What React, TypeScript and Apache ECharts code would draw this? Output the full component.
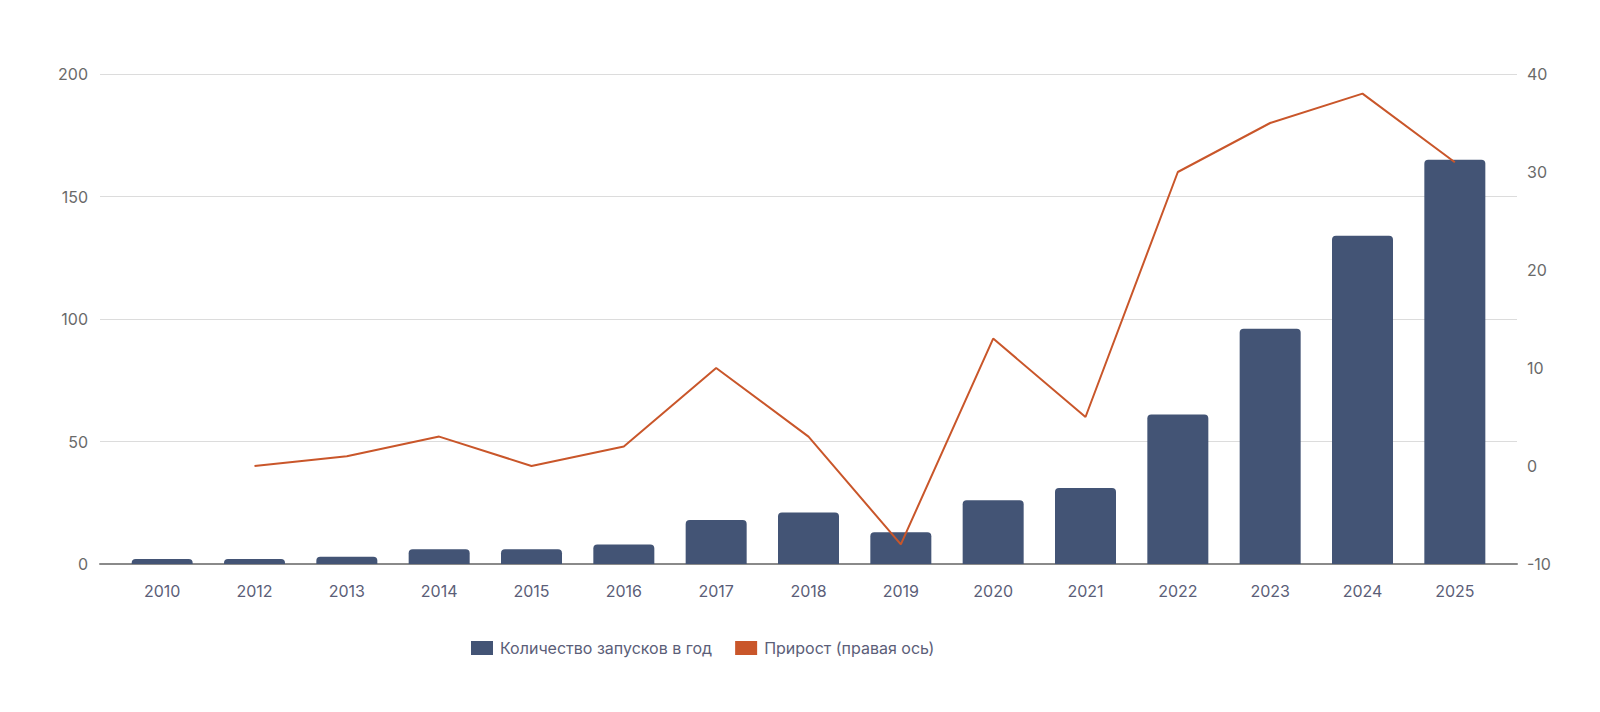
import React, { useEffect, useRef } from "react";
import * as echarts from "echarts";

const years = ["2010", "2012", "2013", "2014", "2015", "2016", "2017", "2018", "2019", "2020", "2021", "2022", "2023", "2024", "2025"];
const launches = [2, 2, 3, 6, 6, 8, 18, 21, 13, 26, 31, 61, 96, 134, 165];
const growth: (number | null)[] = [null, 0, 1, 3, 0, 2, 10, 3, -8, 13, 5, 30, 35, 38, 31];
const seriesNames = ["Количество запусков в год", "Прирост (правая ось)"];

const FONT = "Inter, 'Noto Sans', sans-serif";

export default function App() {
  const ref = useRef<HTMLDivElement>(null);
  useEffect(() => {
    if (!ref.current) return;
    const chart = echarts.init(ref.current, undefined, { renderer: "svg" });
    chart.setOption({
      animation: false,
      backgroundColor: "#ffffff",
      textStyle: { fontFamily: FONT },
      legend: {
        left: 466,
        top: 635,
        itemWidth: 22,
        itemHeight: 14,
        itemGap: 23,
        icon: "rect",
        textStyle: { fontSize: 16, color: "#5b5e78", fontFamily: FONT, padding: [0, 0, 0, 2] },
        data: seriesNames.map((n) => ({ name: n, icon: "rect" })),
      },
      grid: [
        { left: 100, right: 83, top: 74, bottom: 148 },
        { left: 116, right: 99, top: 74, bottom: 148 },
      ],
      xAxis: [
        {
          type: "category",
          gridIndex: 0,
          data: [""],
          axisLine: { show: true, lineStyle: { color: "#8a8a8a", width: 2 } },
          axisTick: { show: false },
          axisLabel: { show: false },
          splitLine: { show: false },
        },
        {
          type: "category",
          gridIndex: 1,
          data: years,
          axisLine: { show: false },
          axisTick: { show: false },
          axisLabel: { fontSize: 16, color: "#5b5e78", margin: 19, fontFamily: FONT },
        },
      ],
      yAxis: [
        {
          type: "value",
          gridIndex: 0,
          position: "left",
          min: 0,
          max: 200,
          interval: 50,
          axisLine: { show: false },
          axisTick: { show: false },
          axisLabel: { fontSize: 16, color: "#6a6a6a", margin: 12, fontFamily: FONT },
          splitLine: { show: true, lineStyle: { color: "#dcdcdc", width: 1 } },
        },
        {
          type: "value",
          gridIndex: 0,
          position: "right",
          min: -10,
          max: 40,
          interval: 10,
          axisLine: { show: false },
          axisTick: { show: false },
          axisLabel: { fontSize: 16, color: "#6a6a6a", margin: 10, fontFamily: FONT },
          splitLine: { show: false },
        },
        { type: "value", gridIndex: 1, min: 0, max: 200, show: false, splitLine: { show: false } },
        { type: "value", gridIndex: 1, min: -10, max: 40, show: false, splitLine: { show: false } },
      ],
      series: [
        {
          name: seriesNames[0],
          type: "bar",
          xAxisIndex: 1,
          yAxisIndex: 2,
          data: launches,
          barWidth: 61,
          itemStyle: { color: "#435475", borderRadius: [4, 4, 0, 0] },
          z: 2,
        },
        {
          name: seriesNames[1],
          type: "line",
          xAxisIndex: 1,
          yAxisIndex: 3,
          data: growth,
          showSymbol: false,
          symbol: "none",
          itemStyle: { color: "#c9562a" },
          lineStyle: { color: "#c9562a", width: 2 },
          z: 3,
        },
      ],
    });
    return () => chart.dispose();
  }, []);
  return (
    <div
      ref={ref}
      style={{ position: "absolute", left: 0, top: 0, width: 1600, height: 712, background: "#fff" }}
    />
  );
}
